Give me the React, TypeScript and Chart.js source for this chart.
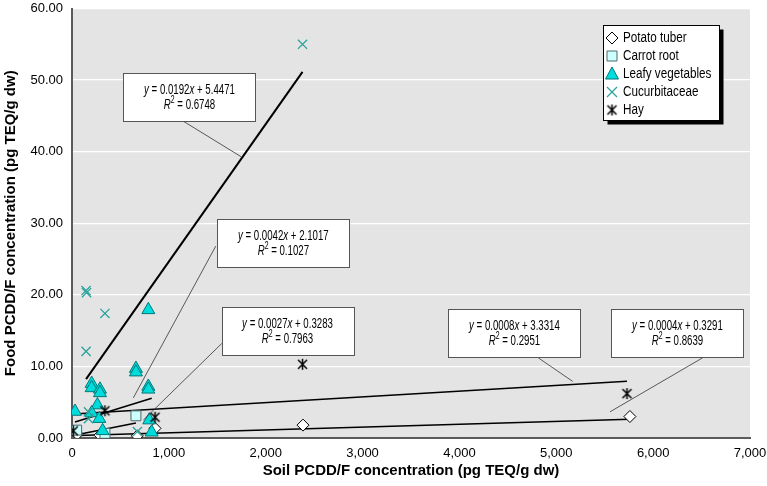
import React, { useEffect, useRef } from 'react';
import { Chart, registerables } from 'chart.js';

Chart.register(...registerables);

const FONT = '"Liberation Sans", Arial, sans-serif';

// ---- data ----
const seriesNames = ['Potato tuber', 'Carrot root', 'Leafy vegetables', 'Cucurbitaceae', 'Hay'];

const potatoX = [55, 289, 674, 857, 2385, 5760];
const potatoY = [0.55, 0.4, 0.3, 1.35, 1.8, 3.0];

const carrotX = [48, 340, 660];
const carrotY = [1.1, 0.65, 3.1];

const leafyX = [788, 660, 660, 203, 203, 289, 289, 788, 788, 31, 262, 203, 282, 798, 316, 823];
const leafyY = [17.9, 9.7, 9.2, 7.6, 7.0, 6.8, 6.3, 7.2, 6.8, 3.7, 4.6, 3.5, 2.7, 2.5, 1.0, 0.8];

const cucurbX = [2380, 145, 150, 340, 145, 170, 170, 675];
const cucurbY = [55.0, 20.6, 20.3, 17.4, 12.1, 3.65, 2.7, 0.9];

const hayX = [13, 340, 857, 2380, 5730];
const hayY = [1.0, 3.8, 2.9, 10.3, 6.2];

// trendline equations shown in the chart (order = seriesNames)
const trendSlopes = [0.0004, 0.0027, 0.0042, 0.0192, 0.0008];
const trendIntercepts = [0.3291, 0.3283, 2.1017, 5.4471, 3.3314];
const slopeLabels = ['0.0004', '0.0027', '0.0042', '0.0192', '0.0008'];
const interceptLabels = ['0.3291', '0.3283', '2.1017', '5.4471', '3.3314'];
const r2Labels = ['0.8639', '0.7963', '0.1027', '0.6748', '0.2951'];

// label box centres and leader lines (data units)
const boxCenterX = [6251, 2225, 2182, 1213, 4568];
const boxCenterY = [14.6, 14.97, 27.26, 47.66, 14.6];
const leaderFromX = [6511, 1546, 1484, 1156, 4814];
const leaderFromY = [11.2, 13.2, 26.8, 44.2, 11.2];
const leaderToX = [5554, 736, 633, 1745, 5170];
const leaderToY = [3.65, 2.5, 5.6, 39.3, 7.9];

const xTicks = [0, 1000, 2000, 3000, 4000, 5000, 6000, 7000];
const yTicks = [0, 10, 20, 30, 40, 50, 60];

const seriesX = [potatoX, carrotX, leafyX, cucurbX, hayX];
const seriesY = [potatoY, carrotY, leafyY, cucurbY, hayY];

const TEAL = '#2aa39c';
const CYAN = '#00dcdc';

function makeAsterisk(): HTMLCanvasElement {
  const c = document.createElement('canvas');
  c.width = 13; c.height = 13;
  const g = c.getContext('2d')!;
  g.strokeStyle = '#000';
  g.lineWidth = 1.5;
  g.beginPath();
  g.moveTo(2, 2); g.lineTo(11, 11);
  g.moveTo(11, 2); g.lineTo(2, 11);
  g.moveTo(6.5, 1); g.lineTo(6.5, 12);
  g.stroke();
  return c;
}

function drawMarker(ctx: CanvasRenderingContext2D, idx: number, x: number, y: number, ast: HTMLCanvasElement) {
  ctx.save();
  ctx.beginPath();
  if (idx === 0) {
    ctx.moveTo(x, y - 6); ctx.lineTo(x + 6, y); ctx.lineTo(x, y + 6); ctx.lineTo(x - 6, y); ctx.closePath();
    ctx.fillStyle = '#fff'; ctx.fill(); ctx.strokeStyle = '#000'; ctx.lineWidth = 1; ctx.stroke();
  } else if (idx === 1) {
    ctx.rect(x - 5, y - 5, 10, 10);
    ctx.fillStyle = '#ccffff'; ctx.fill(); ctx.strokeStyle = '#4a6a6a'; ctx.lineWidth = 1; ctx.stroke();
  } else if (idx === 2) {
    ctx.moveTo(x, y - 7); ctx.lineTo(x + 6.5, y + 5); ctx.lineTo(x - 6.5, y + 5); ctx.closePath();
    ctx.fillStyle = CYAN; ctx.fill(); ctx.strokeStyle = '#007878'; ctx.lineWidth = 1; ctx.stroke();
  } else if (idx === 3) {
    ctx.moveTo(x - 5, y - 5); ctx.lineTo(x + 5, y + 5); ctx.moveTo(x + 5, y - 5); ctx.lineTo(x - 5, y + 5);
    ctx.strokeStyle = TEAL; ctx.lineWidth = 1.3; ctx.stroke();
  } else {
    ctx.drawImage(ast, x - 6.5, y - 6.5);
  }
  ctx.restore();
}

type Seg = { t: string; it?: boolean; sup?: boolean };

function drawRich(ctx: CanvasRenderingContext2D, segs: Seg[], cx: number, cy: number, size: number, sx: number) {
  const fontFor = (s: Seg) => `${s.it ? 'italic ' : ''}${s.sup ? Math.round(size * 0.68) : size}px ${FONT}`;
  const widths = segs.map((s) => { ctx.font = fontFor(s); return ctx.measureText(s.t).width; });
  const total = widths.reduce((a, b) => a + b, 0);
  ctx.save();
  ctx.translate(cx, cy);
  ctx.scale(sx, 1);
  let x = -total / 2;
  ctx.textAlign = 'left';
  ctx.textBaseline = 'middle';
  ctx.fillStyle = '#000';
  segs.forEach((s, i) => {
    ctx.font = fontFor(s);
    ctx.fillText(s.t, x, s.sup ? -size * 0.33 : 0);
    x += widths[i];
  });
  ctx.restore();
}

export default function App() {
  const ref = useRef<HTMLCanvasElement>(null);

  useEffect(() => {
    document.body.style.margin = '0';
    const ast = makeAsterisk();

    const styles = [
      { pointStyle: 'rectRot', radius: 6, bg: '#ffffff', border: '#000000', bw: 1 },
      { pointStyle: 'rect', radius: 7, bg: '#ccffff', border: '#4a6a6a', bw: 1 },
      { pointStyle: 'triangle', radius: 7.5, bg: CYAN, border: '#007878', bw: 1 },
      { pointStyle: 'crossRot', radius: 6.5, bg: TEAL, border: TEAL, bw: 1.3 },
      { pointStyle: ast as any, radius: 6, bg: '#000', border: '#000', bw: 1.5 },
    ];

    const trendSets = seriesNames.map((n, i) => {
      const xs = seriesX[i];
      const x0 = Math.min(...xs);
      const x1 = Math.max(...xs);
      return {
        type: 'line' as const,
        label: n + ' trend',
        data: [
          { x: x0, y: trendSlopes[i] * x0 + trendIntercepts[i] },
          { x: x1, y: trendSlopes[i] * x1 + trendIntercepts[i] },
        ],
        borderColor: '#000',
        borderWidth: i === 3 ? 2 : 1.5,
        pointRadius: 0,
        fill: false,
        order: 10,
      };
    });

    const pointSets = seriesNames.map((n, i) => ({
      type: 'scatter' as const,
      label: n,
      data: seriesX[i].map((x, k) => ({ x, y: seriesY[i][k] })),
      pointStyle: styles[i].pointStyle,
      pointRadius: styles[i].radius,
      backgroundColor: styles[i].bg,
      borderColor: styles[i].border,
      borderWidth: styles[i].bw,
      order: 5 - i,
    }));

    const bgPlugin = {
      id: 'areaBg',
      beforeDraw(chart: any) {
        const { ctx, chartArea: a } = chart;
        ctx.save();
        ctx.fillStyle = '#e4e4e4';
        ctx.fillRect(a.left, a.top, a.right - a.left, a.bottom - a.top);
        ctx.restore();
      },
    };

    const annPlugin = {
      id: 'annotations',
      afterDraw(chart: any) {
        const { ctx } = chart;
        const xs = chart.scales.x;
        const ys = chart.scales.y;
        ctx.save();
        // leader lines
        for (let i = 0; i < seriesNames.length; i++) {
          ctx.beginPath();
          ctx.strokeStyle = '#333';
          ctx.lineWidth = 0.8;
          ctx.moveTo(xs.getPixelForValue(leaderFromX[i]), ys.getPixelForValue(leaderFromY[i]));
          ctx.lineTo(xs.getPixelForValue(leaderToX[i]), ys.getPixelForValue(leaderToY[i]));
          ctx.stroke();
        }
        // boxes
        const W = 132, H = 48;
        for (let i = 0; i < seriesNames.length; i++) {
          const cx = xs.getPixelForValue(boxCenterX[i]);
          const cy = ys.getPixelForValue(boxCenterY[i]);
          const l = Math.round(cx - W / 2) + 0.5;
          const t = Math.round(cy - H / 2) + 0.5;
          ctx.fillStyle = '#fff';
          ctx.fillRect(l, t, W, H);
          ctx.strokeStyle = '#555';
          ctx.lineWidth = 1;
          ctx.strokeRect(l, t, W, H);
          drawRich(ctx, [
            { t: 'y', it: true },
            { t: ' = ' + slopeLabels[i] },
            { t: 'x', it: true },
            { t: ' + ' + interceptLabels[i] },
          ], cx, t + 16.5, 14, 0.69);
          drawRich(ctx, [
            { t: 'R', it: true },
            { t: '2', sup: true },
            { t: ' = ' + r2Labels[i] },
          ], cx, t + 31.5, 14, 0.69);
        }
        // legend
        const lx = 603.5, ly = 25.5, lw = 116, lh = 95;
        ctx.fillStyle = '#000';
        ctx.fillRect(lx + 4, ly + 4, lw, lh);
        ctx.fillStyle = '#fff';
        ctx.fillRect(lx, ly, lw, lh);
        ctx.strokeStyle = '#000';
        ctx.lineWidth = 1;
        ctx.strokeRect(lx, ly, lw, lh);
        for (let i = 0; i < seriesNames.length; i++) {
          const yy = 38 + i * 18;
          drawMarker(ctx, i, 612, yy, ast);
          ctx.save();
          ctx.translate(623, yy);
          ctx.scale(0.835, 1);
          ctx.fillStyle = '#000';
          ctx.font = `14px ${FONT}`;
          ctx.textAlign = 'left';
          ctx.textBaseline = 'middle';
          ctx.fillText(seriesNames[i], 0, 0);
          ctx.restore();
        }
        ctx.restore();
      },
    };

    const chart = new Chart(ref.current!, {
      data: { datasets: [...trendSets, ...pointSets] as any },
      options: {
        animation: false,
        responsive: false,
        layout: { padding: { top: 6, right: 17, left: 0, bottom: 0 } },
        plugins: { legend: { display: false }, tooltip: { enabled: false } },
        scales: {
          x: {
            type: 'linear',
            min: 0,
            max: 7000,
            afterBuildTicks: (s: any) => { s.ticks = xTicks.map((v) => ({ value: v })); },
            afterFit: (s: any) => { s.height = 48; s.paddingLeft = 0; s.paddingRight = 0; },
            grid: { display: false, drawTicks: false },
            border: { display: true, color: '#5a5a5a', width: 2 },
            ticks: {
              padding: 8,
              color: '#000',
              font: { family: FONT, size: 13 },
              maxRotation: 0,
              callback: (v: any) => Number(v).toLocaleString('en-US'),
            },
            title: {
              display: true,
              text: 'Soil PCDD/F concentration (pg TEQ/g dw)',
              color: '#000',
              font: { family: FONT, size: 15, weight: 'bold' },
              padding: { top: 0, bottom: 6 },
            },
          },
          y: {
            type: 'linear',
            min: 0,
            max: 60,
            afterBuildTicks: (s: any) => { s.ticks = yTicks.map((v) => ({ value: v })); },
            afterFit: (s: any) => { s.width = 72; s.paddingTop = 0; s.paddingBottom = 0; },
            grid: { display: true, color: '#ffffff', lineWidth: 1.2, drawTicks: false },
            border: { display: true, color: '#5a5a5a', width: 2 },
            ticks: {
              padding: 9,
              color: '#000',
              font: { family: FONT, size: 13 },
              callback: (v: any) => Number(v).toFixed(2),
            },
            title: {
              display: true,
              text: 'Food PCDD/F concentration (pg TEQ/g dw)',
              color: '#000',
              font: { family: FONT, size: 15, weight: 'bold' },
              padding: { top: 2, bottom: 0 },
            },
          },
        },
      },
      plugins: [bgPlugin, annPlugin],
    });

    return () => chart.destroy();
  }, []);

  return (
    <div style={{ width: 767, height: 486 }}>
      <canvas ref={ref} width={767} height={486} style={{ display: 'block' }} />
    </div>
  );
}
